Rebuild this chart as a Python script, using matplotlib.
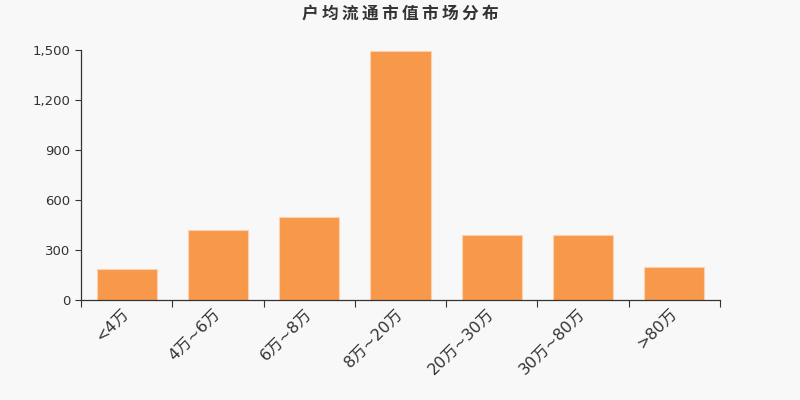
import numpy as np
import matplotlib
matplotlib.use("Agg")
import matplotlib.pyplot as plt
from matplotlib.ticker import FuncFormatter, FixedLocator

plt.rcParams['font.family'] = ['DejaVu Sans', 'Noto Sans CJK SC']

categories = ['<4万', '4万~6万', '6万~8万', '8万~20万', '20万~30万', '30万~80万', '>80万']
values = [188, 420, 500, 1494, 390, 388, 196]
y_ticks = [0, 300, 600, 900, 1200, 1500]
title = '户均流通市值市场分布'

fig = plt.figure(figsize=(8, 4), dpi=100, facecolor='#f8f8f8')
ax = fig.add_axes([81 / 800, 100 / 400, 639 / 800, 250 / 400])
ax.set_facecolor('#f8f8f8')

x = np.arange(len(categories))
ax.bar(x, values, width=0.66, color='#f7984a', edgecolor='#fbd3b0', linewidth=0.8, zorder=2)

ax.set_xlim(-0.5, len(categories) - 0.5)
ax.set_ylim(0, 1500)
ax.set_yticks(y_ticks)
ax.yaxis.set_major_formatter(FuncFormatter(lambda v, p: f'{int(v):,}'))
ax.tick_params(axis='y', labelsize=9.5, colors='#333333', length=4, width=0.8,
               labelcolor='#333333')

ax.set_xticks(x)
ax.set_xticklabels(categories, rotation=45, ha='right', va='center', rotation_mode='anchor',
                   fontsize=11.5, color='#333333')
ax.tick_params(axis='x', which='major', length=0, pad=8)
ax.xaxis.set_minor_locator(FixedLocator(np.arange(-0.5, len(categories), 1)))
ax.tick_params(axis='x', which='minor', length=5, width=0.8, color='#333333')

for s in ['top', 'right']:
    ax.spines[s].set_visible(False)
for s in ['left', 'bottom']:
    ax.spines[s].set_color('#333333')
    ax.spines[s].set_linewidth(0.9)

fig.text(0.5, 1 - 14 / 400, '\u2009'.join(title), ha='center', va='center',
         fontsize=12, fontweight='bold', color='#333333',
         family=['Noto Sans CJK SC', 'DejaVu Sans'])

fig.savefig('out.png', dpi=100, facecolor=fig.get_facecolor())
